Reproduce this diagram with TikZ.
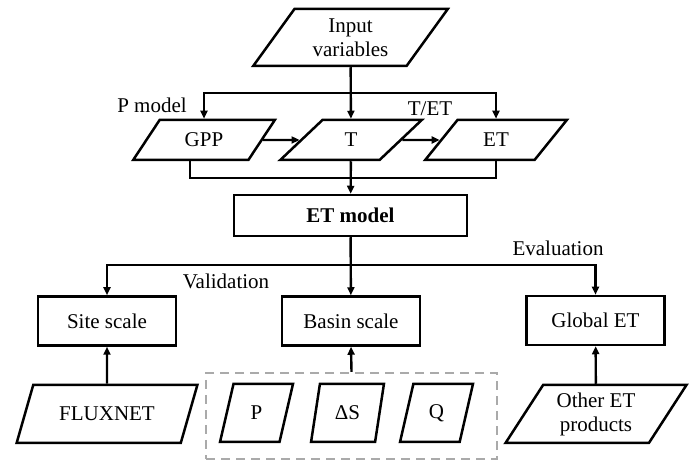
\documentclass[tikz,border=0pt]{standalone}
\usepackage{fontspec}
\setmainfont{Liberation Serif}
\usetikzlibrary{shapes.geometric, arrows.meta, positioning, calc}
\definecolor{cDash}{RGB}{170,170,170}
\tikzset{
	databox/.style ={trapezium, trapezium left angle=55, trapezium right angle=125, trapezium stretches=true, minimum width=142pt, minimum height=40pt, draw=black, line width=2.5pt, align=center, inner sep=2pt},
	wideio/.style  ={databox, trapezium left angle=58, trapezium right angle=122, minimum width=181pt, minimum height=58pt},
	obsbox/.style  ={databox, trapezium left angle=75.5, trapezium right angle=104.5, minimum width=73pt, minimum height=58pt},
	modelbox/.style={rectangle, draw=black, line width=2.5pt, minimum width=233pt, minimum height=41pt, align=center},
	scalebox/.style={rectangle, draw=black, line width=2.5pt, minimum width=138pt, minimum height=49pt, align=center},
	groupbox/.style={rectangle, draw=cDash, line width=2.4pt, dash pattern=on 9pt off 6pt, minimum width=291pt, minimum height=86pt},
	arr/.style     ={-{Triangle[length=8pt, width=7pt]}, line width=2.4pt},
	line/.style    ={line width=2.4pt},
}
\begin{document}
\begin{tikzpicture}[x=1pt, y=-1pt, font=\fontsize{21}{24}\selectfont]
	\useasboundingbox (0,0) rectangle (694,462);
	% top part
	\node[databox, minimum width=195pt, minimum height=57pt] (input) at (350.5,37.5) {Input\\variables};
	\node[databox] (gpp) at (204,140) {GPP};
	\node[databox] (t) at (351,140) {T};
	\node[databox] (et) at (496,140) {ET};
	\node[modelbox] (etm) at (350.5,215.5) {\textbf{ET model}};
	\coordinate (split) at (351,93);
	\coordinate (join) at (351,178);
	\draw[arr] (input) -- (t);
	\draw[arr] (split) -| (gpp.north);
	\draw[arr] (split) -| (et.north);
	\draw[arr] (gpp.east) -- (t.west);
	\draw[arr] (t.east) -- (et.west);
	\draw[line] ($(gpp.bottom left corner)!.5!(gpp.bottom right corner)$) |- (join);
	\draw[line] (et.center |- et.bottom left corner) |- (join);
	\draw[arr] (t) -- (etm);
	\node (pml) at (152,105) {P model};
	\node (tetl) at (430,109) {T/ET};
	% evaluation part
	\node[scalebox] (site) at (107,321) {Site scale};
	\node[scalebox] (basin) at (351,321) {Basin scale};
	\node[scalebox] (glob) at (595.5,320.5) {Global ET};
	\coordinate (split2) at (351,265);
	\draw[arr] (etm) -- (basin);
	\draw[arr] (split2) -| (site);
	\draw[arr] (split2) -| (glob);
	\node (vall) at (226,281) {Validation};
	\node (evall) at (558,248) {Evaluation};
	% reference data
	\node[groupbox] (obs) at (351.5,416) {};
	\node[wideio] (flux) at (107,414) {FLUXNET};
	\node[obsbox] (p) at (256.5,413) {P};
	\node[obsbox] (ds) at (347.5,413) {ΔS};
	\node[obsbox] (q) at (436.5,413) {Q};
	\node[wideio] (oth) at (596,414) {Other ET\\products};
	\draw[arr] (flux) -- (site);
	\draw[arr] (obs.north) -- (basin.south);
	\draw[arr] (oth) -- (glob);
\end{tikzpicture}
\end{document}
